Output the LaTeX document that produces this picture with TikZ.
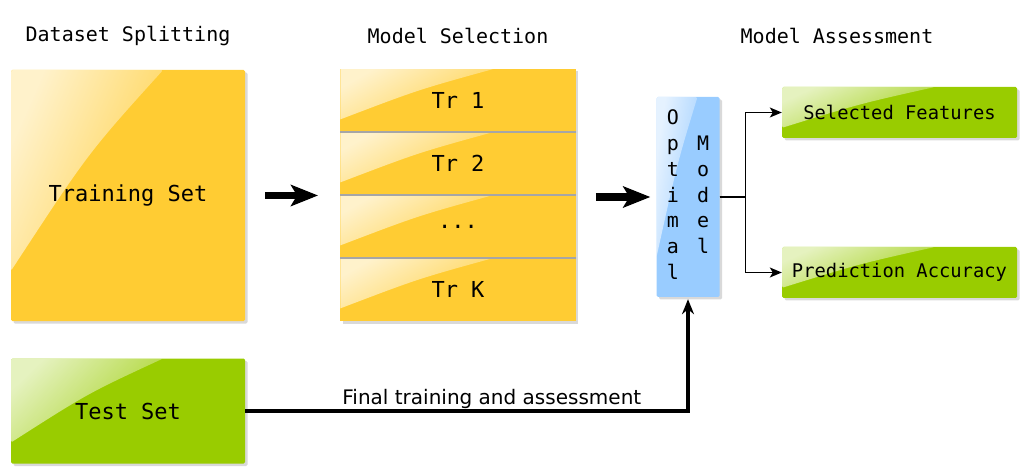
\documentclass[tikz,border=0pt]{standalone}
\usepackage{fontspec}
\setmainfont{DejaVu Sans}
\setmonofont{DejaVu Sans Mono}
\usetikzlibrary{arrows.meta, positioning, shadows, fadings, calc}
\definecolor{setyellow}{RGB}{255,204,51}
\definecolor{setgreen}{RGB}{153,204,0}
\definecolor{modelblue}{RGB}{153,204,255}
\tikzfading[name=glossfade, left color=transparent!25, right color=transparent!88]

\begin{document}
\begin{tikzpicture}[x=1pt, y=-1pt]
        \tikzset{
            gloss/.style={path picture={
                \coordinate (gnw) at (path picture bounding box.north west);
                \coordinate (gne) at (path picture bounding box.north east);
                \coordinate (gsw) at (path picture bounding box.south west);
                \coordinate (gse) at (path picture bounding box.south east);
                \fill[white, path fading=glossfade, fading angle=-30]
                    (gnw) -- ($(gnw)!0.65!(gne)$) .. controls ($(gnw)!0.33!(gse)$) .. ($(gnw)!0.8!(gsw)$) -- cycle;}},
            box/.style={draw=none, gloss, rounded corners=1.5pt, inner sep=0pt, minimum width=234pt,
                drop shadow={shadow xshift=2.5pt, shadow yshift=-2.5pt, opacity=0.3},
                font=\fontsize{22}{26}\selectfont\ttfamily},
            fold/.style={box, fill=setyellow, minimum width=235.5pt, minimum height=63pt, rounded corners=0pt},
            result/.style={box, fill=setgreen, minimum width=235pt, minimum height=51pt,
                font=\fontsize{18.8}{22}\selectfont\ttfamily},
            head/.style={font=\fontsize{20}{24}\selectfont\ttfamily},
            bigarrow/.style={-{Stealth[length=27pt, width=21pt, inset=6pt]}, line width=7.5pt},
            link/.style={-{Stealth[length=12pt, width=10pt, inset=3pt]}, line width=1.3pt},
        }
        \useasboundingbox (0,0) rectangle (1026,473);
        \coordinate (headline) at (0,36);
        % dataset splitting
        \node[box, fill=setyellow, minimum height=251pt] (train) at (128,195.5) {Training Set};
        \node[box, fill=setgreen, minimum height=105pt] (test) at (128,411) {Test Set};
        % model selection
        \node[fold] (fold1) at (458,100.5) {Tr 1};
        \node[fold] (fold2) at (458,163.5) {Tr 2};
        \node[fold] (fold3) at (458,226.5) {...};
        \node[fold] (fold4) at (458,289.5) {Tr K};
        \foreach \i in {1,2,3}
            \draw[black!35, line width=1.5pt] (fold\i.south west) -- (fold\i.south east);
        % model assessment
        \node[box, fill=modelblue, minimum width=63pt, minimum height=200pt,
              font=\fontsize{20}{25.8}\selectfont\ttfamily] (opt) at (688,197)
            {\begin{tabular}{@{}c@{\hspace{18pt}}c@{}} O & \\ p & M \\ t & o \\ i & d \\ m & e \\ a & l \\ l & \end{tabular}};
        \node[result] (sel) at (899.5,112.5) {Selected Features};
        \node[result] (acc) at (899.5,272.5) {Prediction Accuracy};
        % headings
        \node[head] (h1) at (train.north |- headline) {Dataset Splitting};
        \node[head] (h2) at (fold1.north |- headline) {Model Selection};
        \node[head] (h3) at (837,36) {Model Assessment};
        % connectors
        \draw[bigarrow, shorten <=20pt, shorten >=22pt] (train.east) -- (train.east -| fold1.west);
        \draw[bigarrow, shorten <=20pt, shorten >=6pt] (fold1.east |- opt.west) -- (opt.west);
        \draw[link] (opt.east) -- ++(26,0) |- (sel.west);
        \draw[link] (opt.east) -- ++(26,0) |- (acc.west);
        \draw[-{Stealth[length=15pt, width=12pt]}, line width=3.5pt, shorten >=2pt] (test.east) -- (opt.south |- test.east)
            node[pos=0.557, above=0pt, inner sep=1pt, font=\fontsize{20}{24}\selectfont] {Final training and assessment}
            -- (opt.south);
    \end{tikzpicture}
\end{document}
